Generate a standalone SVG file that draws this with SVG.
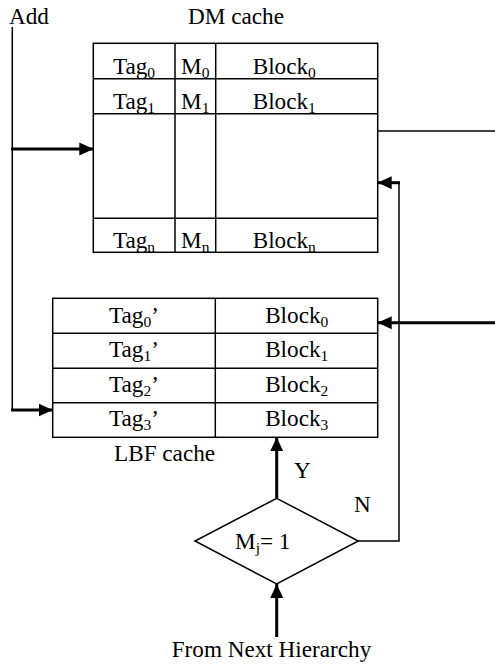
<svg xmlns="http://www.w3.org/2000/svg" width="495" height="666" viewBox="0 0 495 666" font-family="Liberation Serif, Times New Roman, serif">
<style>
text{font-family:"Liberation Serif","Times New Roman",serif;font-size:23.2px;fill:#000}
.sub{font-size:15.5px}
.box{fill:none;stroke:#000;stroke-width:1.5}
.thin{fill:none;stroke:#000;stroke-width:1.5}
.thick{fill:none;stroke:#000;stroke-width:3}
.m{text-anchor:middle}
</style>
<defs>
<marker id="ah" markerUnits="userSpaceOnUse" markerWidth="14" markerHeight="14" viewBox="0 0 14 14" refX="14" refY="7" orient="auto">
<path d="M0,0.5 L14,7 L0,13.5 Z" fill="#000"/>
</marker>
</defs>
<rect width="495" height="666" fill="#fff"/>

<g id="dm-cache">
<rect class="box" x="93.3" y="43.3" width="284.4" height="209"/>
<line class="thin" x1="93.3" y1="78.7" x2="377.7" y2="78.7"/>
<line class="thin" x1="93.3" y1="113.7" x2="377.7" y2="113.7"/>
<line class="thin" x1="93.3" y1="218.3" x2="377.7" y2="218.3"/>
<line class="thin" x1="175" y1="43.3" x2="175" y2="252.3"/>
<line class="thin" x1="215.7" y1="43.3" x2="215.7" y2="252.3"/>
<text x="188" y="24">DM cache</text>
<text x="134" y="74" class="m">Tag<tspan class="sub" dy="4">0</tspan></text>
<text x="195.3" y="74" class="m">M<tspan class="sub" dy="4">0</tspan></text>
<text x="252.7" y="74">Block<tspan class="sub" dy="4">0</tspan></text>
<text x="134" y="108.5" class="m">Tag<tspan class="sub" dy="4">1</tspan></text>
<text x="195.3" y="108.5" class="m">M<tspan class="sub" dy="4">1</tspan></text>
<text x="252.7" y="108.5">Block<tspan class="sub" dy="4">1</tspan></text>
<text x="134" y="247.5" class="m">Tag<tspan class="sub" dy="4">n</tspan></text>
<text x="195.3" y="247.5" class="m">M<tspan class="sub" dy="4">n</tspan></text>
<text x="252.7" y="247.5">Block<tspan class="sub" dy="4">n</tspan></text>
</g>

<g id="lbf-cache">
<rect class="box" x="52.7" y="298.3" width="325" height="139"/>
<line class="thin" x1="52.7" y1="333.3" x2="377.7" y2="333.3"/>
<line class="thin" x1="52.7" y1="368.3" x2="377.7" y2="368.3"/>
<line class="thin" x1="52.7" y1="402.7" x2="377.7" y2="402.7"/>
<line class="thin" x1="215.3" y1="298.3" x2="215.3" y2="437.3"/>
<text x="114" y="461">LBF cache</text>
<text x="134" y="322.5" class="m">Tag<tspan class="sub" dy="4">0</tspan><tspan dy="-4">’</tspan></text>
<text x="134" y="357.3" class="m">Tag<tspan class="sub" dy="4">1</tspan><tspan dy="-4">’</tspan></text>
<text x="134" y="391.7" class="m">Tag<tspan class="sub" dy="4">2</tspan><tspan dy="-4">’</tspan></text>
<text x="134" y="426.3" class="m">Tag<tspan class="sub" dy="4">3</tspan><tspan dy="-4">’</tspan></text>
<text x="296.7" y="322.5" class="m">Block<tspan class="sub" dy="4">0</tspan></text>
<text x="296.7" y="357.3" class="m">Block<tspan class="sub" dy="4">1</tspan></text>
<text x="296.7" y="391.7" class="m">Block<tspan class="sub" dy="4">2</tspan></text>
<text x="296.7" y="426.3" class="m">Block<tspan class="sub" dy="4">3</tspan></text>
</g>

<g id="decision">
<polygon class="box" points="276.7,498.3 358.3,541 276.7,584 195,541"/>
<text x="235" y="548.5">M<tspan class="sub" dy="4">j</tspan><tspan dy="-4">= 1</tspan></text>
</g>

<g id="labels">
<text x="9" y="24">Add</text>
<text x="294" y="478">Y</text>
<text x="354" y="511.5">N</text>
<text x="171.7" y="657">From Next Hierarchy</text>
</g>

<g id="connectors">
<line class="thin" x1="12.3" y1="27" x2="12.3" y2="410"/>
<line class="thick" x1="11" y1="149" x2="93.3" y2="149" marker-end="url(#ah)"/>
<line class="thick" x1="11" y1="410" x2="52.7" y2="410" marker-end="url(#ah)"/>
<line class="thin" x1="377.7" y1="131" x2="495" y2="131"/>
<polyline class="thin" points="358.3,541 399,541 399,182.7 390,182.7"/>
<line class="thick" x1="400" y1="182.7" x2="377.7" y2="182.7" marker-end="url(#ah)"/>
<line class="thick" x1="495" y1="322.7" x2="377.7" y2="322.7" marker-end="url(#ah)"/>
<line class="thick" x1="276.7" y1="498.3" x2="276.7" y2="437.3" marker-end="url(#ah)"/>
<line class="thick" x1="276.7" y1="637" x2="276.7" y2="584" marker-end="url(#ah)"/>
</g>
</svg>
